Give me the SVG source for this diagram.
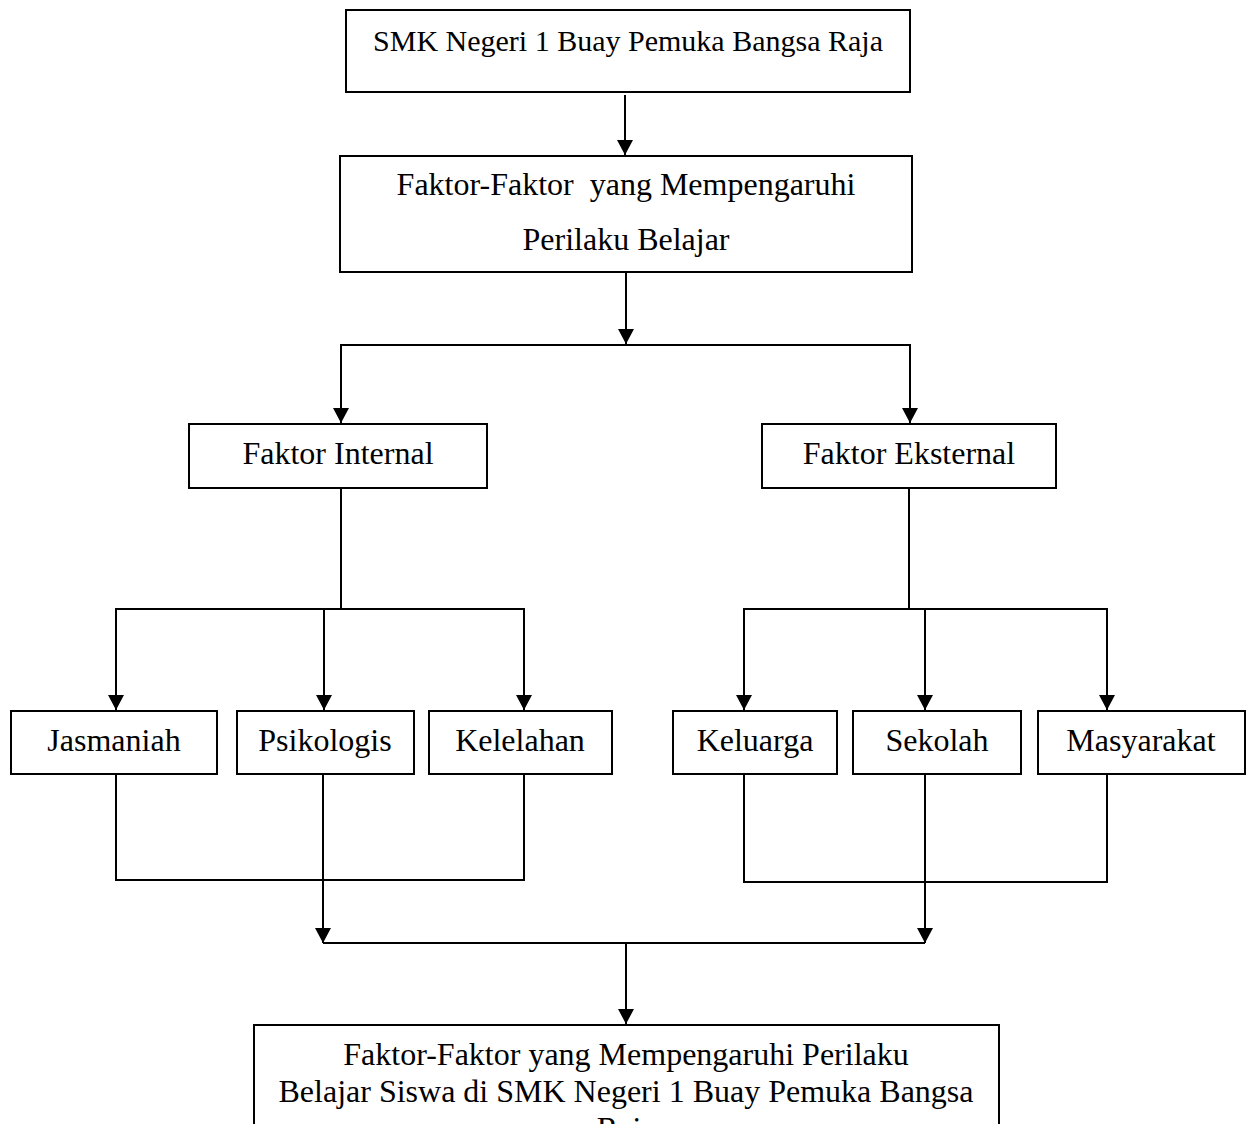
<svg xmlns="http://www.w3.org/2000/svg" width="1252" height="1124" viewBox="0 0 1252 1124">
<style>
.box{fill:#fff;stroke:#000;stroke-width:2}
.t{font-family:"Liberation Serif","Times New Roman",serif;font-size:32px;fill:#000;text-anchor:middle;white-space:pre}
.t30{font-size:30px}
.c{fill:none;stroke:#000;stroke-width:2}
.a{marker-end:url(#arr)}
</style>
<defs>
<marker id="arr" markerWidth="16" markerHeight="16" refX="15" refY="8" orient="auto" markerUnits="userSpaceOnUse">
<path d="M0,0 L15,8 L0,16 Z" fill="#000"/>
</marker>
</defs>
<rect width="1252" height="1124" fill="#fff"/>
<g id="connectors">
<line class="c a" x1="625" y1="95" x2="625" y2="155"/>
<line class="c a" x1="626" y1="272" x2="626" y2="344"/>
<polyline class="c" points="341,423 341,345 910,345 910,423"/>
<line class="c a" x1="341" y1="350" x2="341" y2="423"/>
<line class="c a" x1="910" y1="350" x2="910" y2="423"/>
<line class="c" x1="341" y1="488" x2="341" y2="609"/>
<polyline class="c" points="116,614 116,609 524,609 524,614"/>
<line class="c a" x1="116" y1="609" x2="116" y2="710"/>
<line class="c a" x1="324" y1="609" x2="324" y2="710"/>
<line class="c a" x1="524" y1="609" x2="524" y2="710"/>
<line class="c" x1="909" y1="488" x2="909" y2="609"/>
<polyline class="c" points="744,614 744,609 1107,609 1107,614"/>
<line class="c a" x1="744" y1="609" x2="744" y2="710"/>
<line class="c a" x1="925" y1="609" x2="925" y2="710"/>
<line class="c a" x1="1107" y1="609" x2="1107" y2="710"/>
<polyline class="c" points="116,774 116,880 524,880 524,774"/>
<polyline class="c" points="744,774 744,882 1107,882 1107,774"/>
<line class="c a" x1="323" y1="774" x2="323" y2="943"/>
<line class="c a" x1="925" y1="774" x2="925" y2="943"/>
<line class="c" x1="323" y1="943" x2="925" y2="943"/>
<line class="c a" x1="626" y1="943" x2="626" y2="1024"/>
</g>
<g id="node-smk">
<rect class="box" x="346" y="10" width="564" height="82"/>
<text class="t t30" x="628" y="51">SMK Negeri 1 Buay Pemuka Bangsa Raja</text>
</g>
<g id="node-faktor">
<rect class="box" x="340" y="156" width="572" height="116"/>
<text class="t" x="626" y="195" xml:space="preserve">Faktor-Faktor  yang Mempengaruhi</text>
<text class="t" x="626" y="250">Perilaku Belajar</text>
</g>
<g id="node-internal">
<rect class="box" x="189" y="424" width="298" height="64"/>
<text class="t" x="338" y="464">Faktor Internal</text>
</g>
<g id="node-eksternal">
<rect class="box" x="762" y="424" width="294" height="64"/>
<text class="t" x="909" y="464">Faktor Eksternal</text>
</g>
<g id="node-jasmaniah">
<rect class="box" x="11" y="711" width="206" height="63"/>
<text class="t" x="114" y="751">Jasmaniah</text>
</g>
<g id="node-psikologis">
<rect class="box" x="237" y="711" width="177" height="63"/>
<text class="t" x="325" y="751">Psikologis</text>
</g>
<g id="node-kelelahan">
<rect class="box" x="429" y="711" width="183" height="63"/>
<text class="t" x="520" y="751">Kelelahan</text>
</g>
<g id="node-keluarga">
<rect class="box" x="673" y="711" width="164" height="63"/>
<text class="t" x="755" y="751">Keluarga</text>
</g>
<g id="node-sekolah">
<rect class="box" x="853" y="711" width="168" height="63"/>
<text class="t" x="937" y="751">Sekolah</text>
</g>
<g id="node-masyarakat">
<rect class="box" x="1038" y="711" width="207" height="63"/>
<text class="t" x="1141" y="751">Masyarakat</text>
</g>
<g id="node-hasil">
<rect class="box" x="254" y="1025" width="745" height="130"/>
<text class="t" x="626" y="1065">Faktor-Faktor yang Mempengaruhi Perilaku</text>
<text class="t" x="626" y="1102">Belajar Siswa di SMK Negeri 1 Buay Pemuka Bangsa</text>
<text class="t" x="626" y="1139">Raja</text>
</g>
</svg>
